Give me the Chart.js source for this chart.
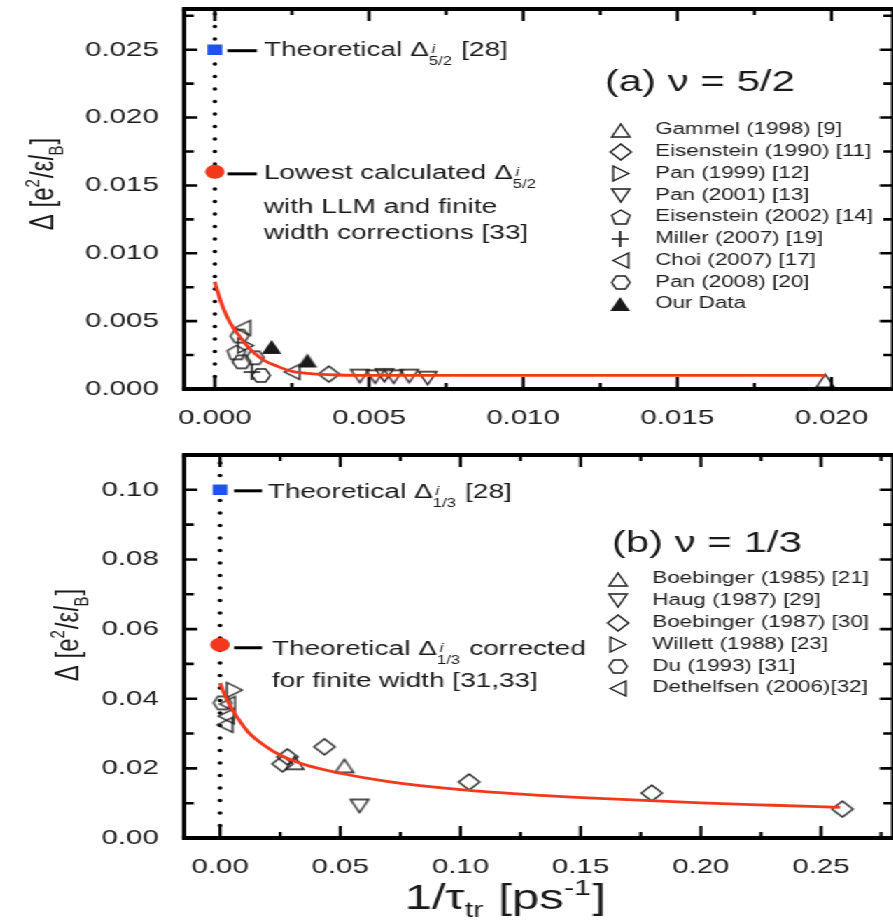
<!DOCTYPE html>
<html>
<head>
<meta charset="utf-8">
<script src="https://cdn.jsdelivr.net/npm/chart.js@4.4.0/dist/chart.umd.min.js"></script>
<style>
    html, body { margin: 0; padding: 0; background: #fff; overflow: hidden; width: 893px; height: 923px; }
    /* recorte exacto a la ventana */
    #recorte { position: absolute; left: 0; top: 0; width: 893px; height: 923px; overflow: hidden; }
    /* la figura original viene estirada en horizontal: se dibuja angosta y se estira */
    #lienzo { position: absolute; left: 0; top: 0; width: 638px; transform: scaleX(1.4); transform-origin: 0 0; }
    #lienzo canvas { display: block; }
</style>
</head>
<body>
<div id="recorte">
<div id="lienzo">
    <canvas id="graficaA" width="638" height="445"></canvas>
    <canvas id="graficaB" width="638" height="478"></canvas>
</div>
</div>
<script>
// ---------- Panel (a): nu = 5/2 ----------
const gammelX = [0.0198];
const gammelY = [0.0006];
const eis1990X = [0.0037];
const eis1990Y = [0.0011];
const pan1999X = [0.0010];
const pan1999Y = [0.0032];
const pan2001X = [0.0047, 0.0052, 0.0055, 0.0058, 0.0063, 0.0069];
const pan2001Y = [0.00095, 0.0009, 0.0010, 0.0009, 0.00095, 0.0008];
const eis2002X = [0.0007];
const eis2002Y = [0.0027];
const millerX = [0.0012];
const millerY = [0.00125];
const choiX = [0.0009, 0.0025];
const choiY = [0.0045, 0.00126];
const pan2008X = [0.0008, 0.00087, 0.0013, 0.0015];
const pan2008Y = [0.0039, 0.0020, 0.0023, 0.0010];
const nuestrosX = [0.00184, 0.0030];
const nuestrosY = [0.0031, 0.0021];

// curva de ajuste
const ajusteAX = [0, 0.0001, 0.0002, 0.0004, 0.0006, 0.0008, 0.001, 0.0013, 0.0016, 0.002, 0.0025, 0.003, 0.004, 0.005, 0.01, 0.0198];
const ajusteAY = [0.0079, 0.0071, 0.0064, 0.0053, 0.0045, 0.0039, 0.0033, 0.0026, 0.0021, 0.0017, 0.0013, 0.00115, 0.00103, 0.001, 0.001, 0.001];

const teoricoA = 0.025;     // Theoretical Delta 5/2
const calculadoA = 0.016;   // Lowest calculated Delta 5/2
const ceroAY = [0, 0.028];  // línea punteada en x = 0

const marcasXA = [0, 0.0025, 0.005, 0.0075, 0.01, 0.0125, 0.015, 0.0175, 0.02];
const etiquetasXA = ['0.000', '', '0.005', '', '0.010', '', '0.015', '', '0.020'];
const marcasYA = [0, 0.0025, 0.005, 0.0075, 0.01, 0.0125, 0.015, 0.0175, 0.02, 0.0225, 0.025, 0.0275];
const etiquetasYA = ['0.000', '', '0.005', '', '0.010', '', '0.015', '', '0.020', '', '0.025', ''];

// ---------- Panel (b): nu = 1/3 ----------
const boeb1985X = [0.031, 0.0517];
const boeb1985Y = [0.0216, 0.0207];
const haugX = [0.058];
const haugY = [0.0092];
const boeb1987X = [0.026, 0.028, 0.0434, 0.1036, 0.1796, 0.2589];
const boeb1987Y = [0.0213, 0.0233, 0.0262, 0.0161, 0.0129, 0.0083];
const willettX = [0.006];
const willettY = [0.0425];
const duX = [0.001];
const duY = [0.0388];
const dethX = [0.003, 0.0025, 0.002];
const dethY = [0.0385, 0.035, 0.0325];

const ajusteBX = [0, 0.002, 0.005, 0.008, 0.012, 0.018, 0.025, 0.035, 0.05, 0.07, 0.1, 0.13, 0.16, 0.2, 0.23, 0.258];
const ajusteBY = [0.0445, 0.041, 0.037, 0.0338, 0.0302, 0.0268, 0.0238, 0.0211, 0.0186, 0.0162, 0.0139, 0.0124, 0.0113, 0.0101, 0.0094, 0.0088];

const teoricoB = 0.10;
const corregidoB = 0.0555;
const ceroBY = [0, 0.11];

const marcasXB = [0, 0.025, 0.05, 0.075, 0.1, 0.125, 0.15, 0.175, 0.2, 0.225, 0.25, 0.275];
const etiquetasXB = ['0.00', '', '0.05', '', '0.10', '', '0.15', '', '0.20', '', '0.25', ''];
const marcasYB = [0, 0.01, 0.02, 0.03, 0.04, 0.05, 0.06, 0.07, 0.08, 0.09, 0.1];
const etiquetasYB = ['0.00', '', '0.02', '', '0.04', '', '0.06', '', '0.08', '', '0.10'];

const FUENTE = '"Liberation Sans", Arial, Helvetica, sans-serif';
const TINTA = '#1a1a1a';
const ROJO = '#f2391e';
const AZUL = '#1f52ee';

const pares = (xs, ys) => xs.map((x, i) => ({ x, y: ys[i] }));

// Genera un símbolo como canvas pequeño (ancho y alto en px internos)
function crearSimbolo(tipo, ancho, alto, relleno) {
    const c = document.createElement('canvas');
    c.width = Math.ceil(ancho + 4);
    c.height = Math.ceil(alto + 4);
    const g = c.getContext('2d');
    const cx = c.width / 2, cy = c.height / 2, rx = ancho / 2, ry = alto / 2;
    const formas = {
        arriba: [[0, -1], [1, 1], [-1, 1]],
        abajo: [[-1, -1], [1, -1], [0, 1]],
        der: [[-1, -1], [1, 0], [-1, 1]],
        izq: [[1, -1], [-1, 0], [1, 1]],
        rombo: [[0, -1], [1, 0], [0, 1], [-1, 0]],
        hex: [[-1, 0], [-0.5, -1], [0.5, -1], [1, 0], [0.5, 1], [-0.5, 1]],
        pent: [[0, -1], [1, -0.24], [0.62, 1], [-0.62, 1], [-1, -0.24]]
    };
    g.strokeStyle = TINTA;
    g.fillStyle = TINTA;
    g.lineWidth = 1.3;
    g.beginPath();
    if (tipo === 'mas') {
        g.lineWidth = 1.6;
        g.moveTo(cx - rx, cy); g.lineTo(cx + rx, cy);
        g.moveTo(cx, cy - ry); g.lineTo(cx, cy + ry);
        g.stroke();
        return c;
    }
    formas[tipo].forEach(([px, py], i) => {
        if (i === 0) g.moveTo(cx + px * rx, cy + py * ry);
        else g.lineTo(cx + px * rx, cy + py * ry);
    });
    g.closePath();
    if (relleno) g.fill(); else g.stroke();
    return c;
}

const simbolos = {
    arriba: crearSimbolo('arriba', 13, 13),
    abajo: crearSimbolo('abajo', 13, 13),
    der: crearSimbolo('der', 11, 15),
    izq: crearSimbolo('izq', 11, 15),
    rombo: crearSimbolo('rombo', 15, 16),
    hex: crearSimbolo('hex', 13, 13),
    pent: crearSimbolo('pent', 13, 14),
    mas: crearSimbolo('mas', 12, 16),
    lleno: crearSimbolo('arriba', 14, 14, true)
};

function serieMarcas(etiqueta, xs, ys, simbolo) {
    return {
        label: etiqueta,
        data: pares(xs, ys),
        pointStyle: simbolo,
        pointRadius: 6,
        order: 2
    };
}

function serieAjuste(xs, ys) {
    return {
        data: pares(xs, ys),
        showLine: true,
        pointRadius: 0,
        borderColor: ROJO,
        borderWidth: 2.8,
        cubicInterpolationMode: 'monotone',
        order: 1
    };
}

function serieCero(ys) {
    return {
        data: pares([0, 0], ys),
        showLine: true,
        pointRadius: 0,
        borderColor: '#000',
        borderWidth: 3.4,
        borderDash: [0, 12.5],
        borderCapStyle: 'round',
        order: 3
    };
}

function serieEspecial(valor, estilo, color, radio) {
    return {
        data: [{ x: 0, y: valor }],
        pointStyle: estilo,
        pointRadius: radio,
        backgroundColor: color,
        borderColor: color,
        borderWidth: 0,
        order: 0
    };
}

// Escribe texto con sub/superíndices; devuelve el ancho total
function textoRico(ctx, partes, x, y, tam, dibujar = true) {
    let cx = x;
    const chico = Math.round(tam * 0.62);
    partes.forEach(p => {
        if (p.t !== undefined) {
            ctx.font = `${p.it ? 'italic ' : ''}${tam}px ${FUENTE}`;
            if (dibujar) ctx.fillText(p.t, cx, y);
            cx += ctx.measureText(p.t).width;
        } else {
            let ancho = 0;
            if (p.sup !== undefined) {
                ctx.font = `${p.itSup ? 'italic ' : ''}${chico}px ${FUENTE}`;
                const corr = p.corrSup || 0;
                if (dibujar) ctx.fillText(p.sup, cx + corr, y + (p.dySup ?? -tam * 0.42));
                ancho = Math.max(ancho, ctx.measureText(p.sup).width + corr);
            }
            if (p.sub !== undefined) {
                ctx.font = `${chico}px ${FUENTE}`;
                if (dibujar) ctx.fillText(p.sub, cx, y + (p.dySub ?? tam * 0.3));
                ancho = Math.max(ancho, ctx.measureText(p.sub).width);
            }
            cx += ancho + 1;
        }
    });
    return cx - x;
}

// Marco y marcas de los ejes hacia dentro; el borde derecho cae fuera del recorte
const marcoEjes = {
    id: 'marcoEjes',
    afterDraw(chart) {
        const { ctx, chartArea: a } = chart;
        const { x, y } = chart.scales;
        ctx.save();
        ctx.strokeStyle = '#000';
        ctx.lineWidth = 2.2;
        x.ticks.forEach(t => {
            const px = x.getPixelForValue(t.value);
            const largo = t.label ? 12 : 6;
            ctx.beginPath();
            ctx.moveTo(px, a.bottom); ctx.lineTo(px, a.bottom - largo);
            ctx.moveTo(px, a.top); ctx.lineTo(px, a.top + largo);
            ctx.stroke();
        });
        ctx.lineWidth = 2.6;
        y.ticks.forEach(t => {
            const py = y.getPixelForValue(t.value);
            const largo = t.label ? 9.5 : 7;
            ctx.beginPath();
            ctx.moveTo(a.left, py); ctx.lineTo(a.left + largo, py);
            ctx.moveTo(a.right, py); ctx.lineTo(a.right - largo, py);
            ctx.stroke();
        });
        ctx.lineWidth = 4;
        ctx.beginPath();
        ctx.moveTo(a.left - 1.5, a.top); ctx.lineTo(a.right + 1.5, a.top);
        ctx.moveTo(a.left - 1.5, a.bottom); ctx.lineTo(a.right + 1.5, a.bottom);
        ctx.stroke();
        ctx.lineWidth = 3;
        ctx.beginPath();
        ctx.moveTo(a.left, a.top); ctx.lineTo(a.left, a.bottom);
        ctx.moveTo(a.right, a.top); ctx.lineTo(a.right, a.bottom);
        ctx.stroke();
        ctx.restore();
    }
};

// Leyenda dentro del área del gráfico
const leyendaPropia = {
    id: 'leyendaPropia',
    afterDatasetsDraw(chart, args, opts) {
        const ctx = chart.ctx;
        ctx.save();
        ctx.font = `${opts.tam}px ${FUENTE}`;
        ctx.fillStyle = TINTA;
        ctx.textBaseline = 'middle';
        let fila = 0;
        chart.data.datasets.forEach(ds => {
            if (!ds.label) return;
            const y = opts.y0 + fila * opts.paso;
            const img = ds.pointStyle;
            ctx.drawImage(img, Math.round(opts.xSimbolo - img.width / 2), Math.round(y - img.height / 2));
            ctx.fillText(ds.label, opts.xTexto, y);
            fila++;
        });
        ctx.restore();
    }
};

// Notas, título del panel y títulos de los ejes
const notas = {
    id: 'notas',
    afterDraw(chart, args, opts) {
        const { ctx, scales: { x, y } } = chart;
        ctx.save();
        ctx.fillStyle = TINTA;
        ctx.strokeStyle = '#000';
        ctx.textBaseline = 'alphabetic';
        const px = x.getPixelForValue(0);
        opts.items.forEach(it => {
            const py = y.getPixelForValue(it.valor);
            ctx.lineWidth = 3;
            ctx.beginPath();
            ctx.moveTo(px + it.raya[0], py + it.raya[2]);
            ctx.lineTo(px + it.raya[1], py + it.raya[2]);
            ctx.stroke();
            it.lineas.forEach(l => textoRico(ctx, l.partes, px + l.dx, py + l.dy, opts.tam));
        });

        const p = opts.panel;
        textoRico(ctx, p.partes, p.x, p.y, p.tam);

        const ty = opts.tituloY;
        ctx.save();
        ctx.translate(ty.x, ty.y);
        ctx.rotate(-Math.PI / 2);
        ctx.scale(ty.estira, 1);
        const ancho = textoRico(ctx, ty.partes, 0, 0, ty.tam, false);
        textoRico(ctx, ty.partes, -ancho / 2, 0, ty.tam);
        ctx.restore();

        if (opts.tituloX) {
            const tx = opts.tituloX;
            const w = textoRico(ctx, tx.partes, 0, 0, tx.tam, false);
            textoRico(ctx, tx.partes, tx.x - w / 2, tx.y, tx.tam);
        }
        ctx.restore();
    }
};

function escala(min, max, marcas, etiquetas, eje, medida) {
    return {
        type: 'linear',
        min: min,
        max: max,
        bounds: 'data',
        afterBuildTicks: s => { s.ticks = marcas.map(v => ({ value: v })); },
        afterFit: s => {
            // sin márgenes extra por las etiquetas de los extremos
            s.paddingTop = 0; s.paddingBottom = 0; s.paddingLeft = 0; s.paddingRight = 0;
            if (eje === 'x') s.height = medida; else s.width = medida;
        },
        grid: { display: false, drawTicks: false },
        border: { display: false },
        ticks: {
            autoSkip: false,
            maxRotation: 0,
            padding: eje === 'x' ? 17 : 18,
            color: TINTA,
            font: { family: FUENTE, size: 21 },
            callback: (v, i) => etiquetas[i]
        }
    };
}

function configurar(datasets, ejes, extras) {
    return {
        type: 'scatter',
        data: { datasets },
        options: {
            responsive: false,
            animation: false,
            events: [],
            layout: { autoPadding: false, padding: { top: ejes.arriba, right: -2, left: 0, bottom: 0 } },
            plugins: {
                legend: { display: false },
                tooltip: { enabled: false },
                leyendaPropia: extras.leyenda,
                notas: extras.notas
            },
            scales: {
                x: escala(ejes.xMin, ejes.xMax, ejes.marcasX, ejes.etiquetasX, 'x', ejes.altoX),
                y: escala(ejes.yMin, ejes.yMax, ejes.marcasY, ejes.etiquetasY, 'y', 131.4)
            }
        },
        plugins: [marcoEjes, leyendaPropia, notas]
    };
}

const deltaCon = (sub) => [{ t: 'Δ' }, { sup: 'i', sub: sub, itSup: true, corrSup: 2, dySup: -3, dySub: 9 }];
const partesTituloY = [{ t: 'Δ [e' }, { sup: '2' }, { t: '/ε' }, { t: 'l', it: true }, { sub: 'B', dySub: 7 }, { t: ']' }];

// ---------- Gráfica (a) ----------
const datosA = [
    serieMarcas('Gammel (1998) [9]', gammelX, gammelY, simbolos.arriba),
    serieMarcas('Eisenstein (1990) [11]', eis1990X, eis1990Y, simbolos.rombo),
    serieMarcas('Pan (1999) [12]', pan1999X, pan1999Y, simbolos.der),
    serieMarcas('Pan (2001) [13]', pan2001X, pan2001Y, simbolos.abajo),
    serieMarcas('Eisenstein (2002) [14]', eis2002X, eis2002Y, simbolos.pent),
    serieMarcas('Miller (2007) [19]', millerX, millerY, simbolos.mas),
    serieMarcas('Choi (2007) [17]', choiX, choiY, simbolos.izq),
    serieMarcas('Pan (2008) [20]', pan2008X, pan2008Y, simbolos.hex),
    serieMarcas('Our Data', nuestrosX, nuestrosY, simbolos.lleno),
    serieAjuste(ajusteAX, ajusteAY),
    serieCero(ceroAY),
    serieEspecial(teoricoA, 'rect', AZUL, 7.5),
    serieEspecial(calculadoA, 'circle', ROJO, 7)
];

new Chart(document.getElementById('graficaA'), configurar(datosA, {
    arriba: 9, altoX: 56,
    xMin: -0.001, xMax: 0.022, marcasX: marcasXA, etiquetasX: etiquetasXA,
    yMin: 0, yMax: 0.028, marcasY: marcasYA, etiquetasY: etiquetasYA
}, {
    leyenda: { tam: 16, xSimbolo: 443, xTexto: 468, y0: 130, paso: 21.75 },
    notas: {
        tam: 20,
        items: [
            { valor: teoricoA, raya: [9, 30, 1], lineas: [
                { dx: 35, dy: 6, partes: [{ t: 'Theoretical ' }, ...deltaCon('5/2'), { t: ' [28]' }] }
            ] },
            { valor: calculadoA, raya: [9, 30, 2], lineas: [
                { dx: 35, dy: 7, partes: [{ t: 'Lowest calculated ' }, ...deltaCon('5/2')] },
                { dx: 35, dy: 41, partes: [{ t: 'with LLM and finite' }] },
                { dx: 35, dy: 67, partes: [{ t: 'width corrections [33]' }] }
            ] }
        ],
        panel: { x: 432, y: 91, tam: 30, partes: [{ t: '(a) ν = 5/2' }] },
        tituloY: { x: 38, y: 184, tam: 24, estira: 1.0, partes: partesTituloY }
    }
}));

// ---------- Gráfica (b) ----------
const datosB = [
    serieMarcas('Boebinger (1985) [21]', boeb1985X, boeb1985Y, simbolos.arriba),
    serieMarcas('Haug (1987) [29]', haugX, haugY, simbolos.abajo),
    serieMarcas('Boebinger (1987) [30]', boeb1987X, boeb1987Y, simbolos.rombo),
    serieMarcas('Willett (1988) [23]', willettX, willettY, simbolos.der),
    serieMarcas('Du (1993) [31]', duX, duY, simbolos.hex),
    serieMarcas('Dethelfsen (2006)[32]', dethX, dethY, simbolos.izq),
    serieAjuste(ajusteBX, ajusteBY),
    serieCero(ceroBY),
    serieEspecial(teoricoB, 'rect', AZUL, 7.5),
    serieEspecial(corregidoB, 'circle', ROJO, 7)
];

new Chart(document.getElementById('graficaB'), configurar(datosB, {
    arriba: 10, altoX: 85,
    xMin: -0.015, xMax: 0.28, marcasX: marcasXB, etiquetasX: etiquetasXB,
    yMin: 0, yMax: 0.11, marcasY: marcasYB, etiquetasY: etiquetasYB
}, {
    leyenda: { tam: 16, xSimbolo: 441, xTexto: 466, y0: 134, paso: 21.8 },
    notas: {
        tam: 20,
        items: [
            { valor: teoricoB, raya: [10, 30, 1], lineas: [
                { dx: 34, dy: 8, partes: [{ t: 'Theoretical ' }, ...deltaCon('1/3'), { t: ' [28]' }] }
            ] },
            { valor: corregidoB, raya: [10, 30, 3], lineas: [
                { dx: 37, dy: 10, partes: [{ t: 'Theoretical ' }, ...deltaCon('1/3'), { t: ' corrected' }] },
                { dx: 37, dy: 42, partes: [{ t: 'for finite width [31,33]' }] }
            ] }
        ],
        panel: { x: 437, y: 107, tam: 30, partes: [{ t: '(b) ν = 1/3' }] },
        tituloY: { x: 55.7, y: 190, tam: 24, estira: 1.0, partes: partesTituloY },
        tituloX: { x: 361, y: 464, tam: 35,
            partes: [{ t: '1/τ' }, { sub: 'tr', dySub: 8 }, { t: ' [ps' }, { sup: '-1', dySup: -14 }, { t: ']' }] }
    }
}));
</script>
</body>
</html>
